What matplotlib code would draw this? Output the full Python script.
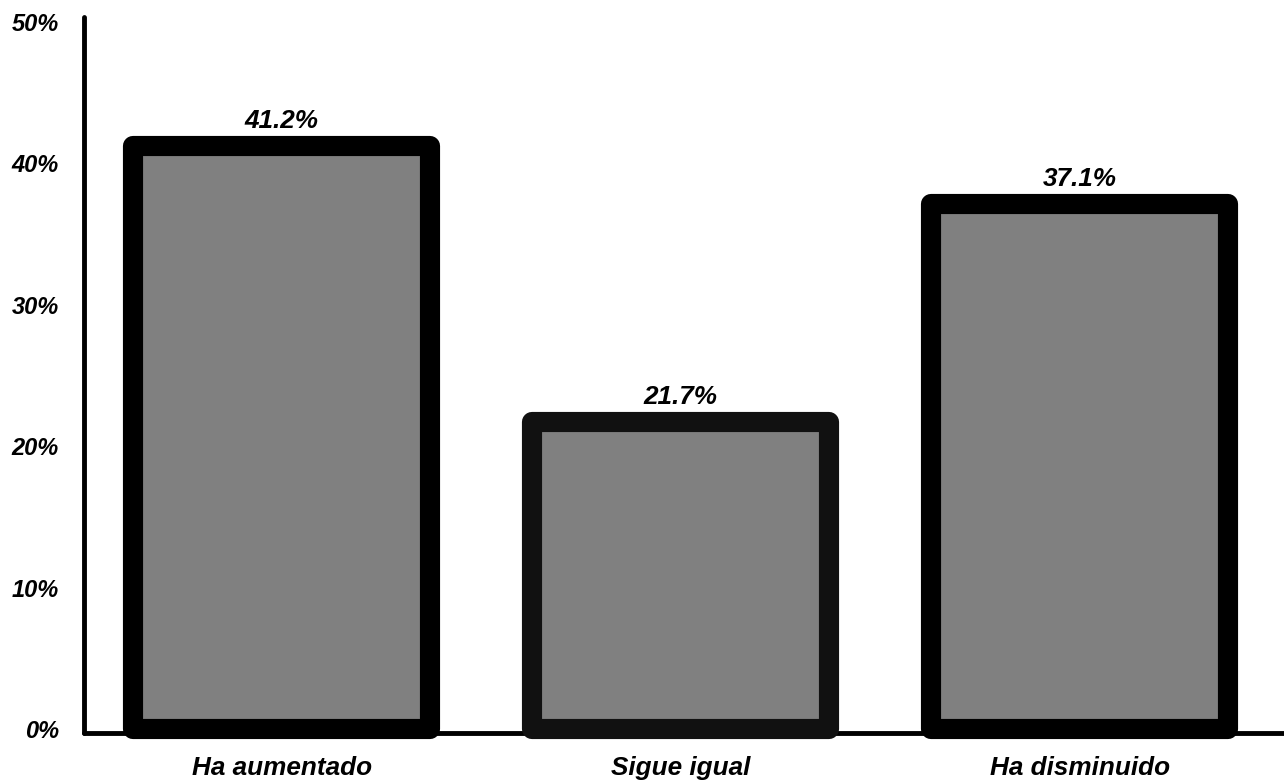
import matplotlib
matplotlib.use("Agg")
import matplotlib.pyplot as plt

# Datos
categorias = ["Ha aumentado", "Sigue igual", "Ha disminuido"]
porcentajes = [41.2, 21.7, 37.1]
ticks_y = [0, 10, 20, 30, 40, 50]
etiquetas_y = ["0%", "10%", "20%", "30%", "40%", "50%"]
bordes = ["#000000", "#111111", "#000000"]

plt.rcParams['font.family'] = ['Liberation Sans', 'DejaVu Sans']

fig = plt.figure(figsize=(12.84, 7.82), dpi=100)
ax = fig.add_axes([0.0654, 0.0627, 0.9346, 0.9156])

x = range(len(categorias))
barras = ax.bar(x, porcentajes, width=0.745, color="#808080",
                edgecolor=bordes, linewidth=14.5, zorder=3, clip_on=False)
for b in barras:
    b.set_joinstyle('round')

# Etiquetas de valor
for xi, v in zip(x, porcentajes):
    ax.annotate(f"{v:.1f}%", (xi, v), xytext=(0, 13), textcoords="offset points",
                ha="center", va="baseline", fontsize=18.8,
                fontweight="bold", fontstyle="italic")

ax.set_xlim(-0.496, 2.512)
ax.set_ylim(-0.28, 50.35)
ax.set_xticks(list(x))
ax.set_xticklabels(categorias, fontsize=18.8, fontweight="bold", fontstyle="italic")
ax.set_yticks(ticks_y)
ax.set_yticklabels(etiquetas_y, fontsize=17, fontweight="bold", fontstyle="italic")
ax.tick_params(axis="x", length=0, pad=16.5)
ax.tick_params(axis="y", length=0, pad=18)

for s in ["top", "right"]:
    ax.spines[s].set_visible(False)
for s in ["left", "bottom"]:
    ax.spines[s].set_linewidth(3.5)
    ax.spines[s].set_capstyle('round')

fig.savefig("out.png", dpi=100)
